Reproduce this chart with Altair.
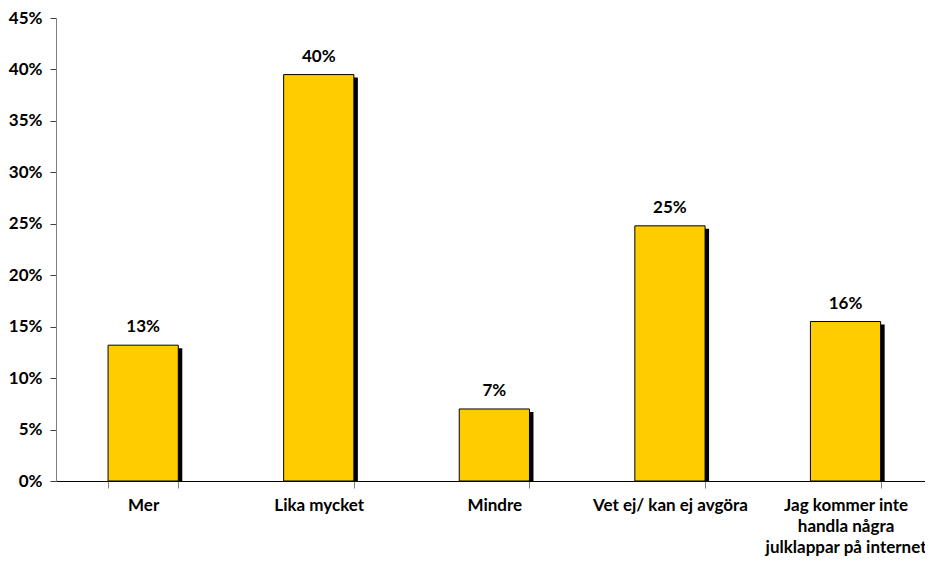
import altair as alt
import pandas as pd

categories = ["Mer", "Lika mycket", "Mindre", "Vet ej/ kan ej avgöra",
              "Jag kommer inte|handla några|julklappar på internet"]
values = [0.132, 0.395, 0.070, 0.248, 0.155]
labels = ["13%", "40%", "7%", "25%", "16%"]

df = pd.DataFrame({"cat": categories, "val": values, "lab": labels})

FONT = "Lato"
FS = 17

x = alt.X("cat:N", sort=categories, title=None,
          scale=alt.Scale(paddingInner=0.6, paddingOuter=0.2745, align=0.54),
          axis=alt.Axis(labelAngle=0, labelFont=FONT, labelFontWeight="bold",
                        labelFontSize=FS, labelColor="black",
                        labelExpr="split(datum.label, '|')",
                        labelLineHeight=21, labelPadding=9,
                        labelBaseline="top",
                        domainColor="black", domainWidth=1.2,
                        tickColor="#808080", tickSize=7, tickBand="extent",
                        labelLimit=300))
y = alt.Y("val:Q", title=None,
          scale=alt.Scale(domain=[0, 0.45], nice=False),
          axis=alt.Axis(values=[0, 0.05, 0.1, 0.15, 0.2, 0.25, 0.3, 0.35, 0.4, 0.45],
                        format=".0%", grid=False, labelFont=FONT,
                        labelFontWeight="bold", labelFontSize=FS,
                        labelColor="black", domainColor="#808080",
                        tickColor="#404040", tickSize=6, labelPadding=8))

base = alt.Chart(df)

shadow = base.mark_bar(color="black", xOffset=4, yOffset=3, y2Offset=0).encode(
    x=x, y=y, y2=alt.datum(0))
bars = base.mark_bar(color="#FFCC00", stroke="black", strokeWidth=1).encode(
    x=x, y=y)
text = base.mark_text(font=FONT, fontWeight="bold", fontSize=FS, dy=-18,
                      baseline="middle", color="black").encode(
    x=x, y=y, text="lab:N")

chart = (shadow + bars + text).properties(
    width=869, height=463,
    autosize=alt.AutoSizeParams(type="none"),
    padding={"left": 48, "top": 10, "right": 0, "bottom": 75},
).configure_view(stroke=None)

chart.save("out.html", embed_options={"renderer": "svg", "actions": False})
